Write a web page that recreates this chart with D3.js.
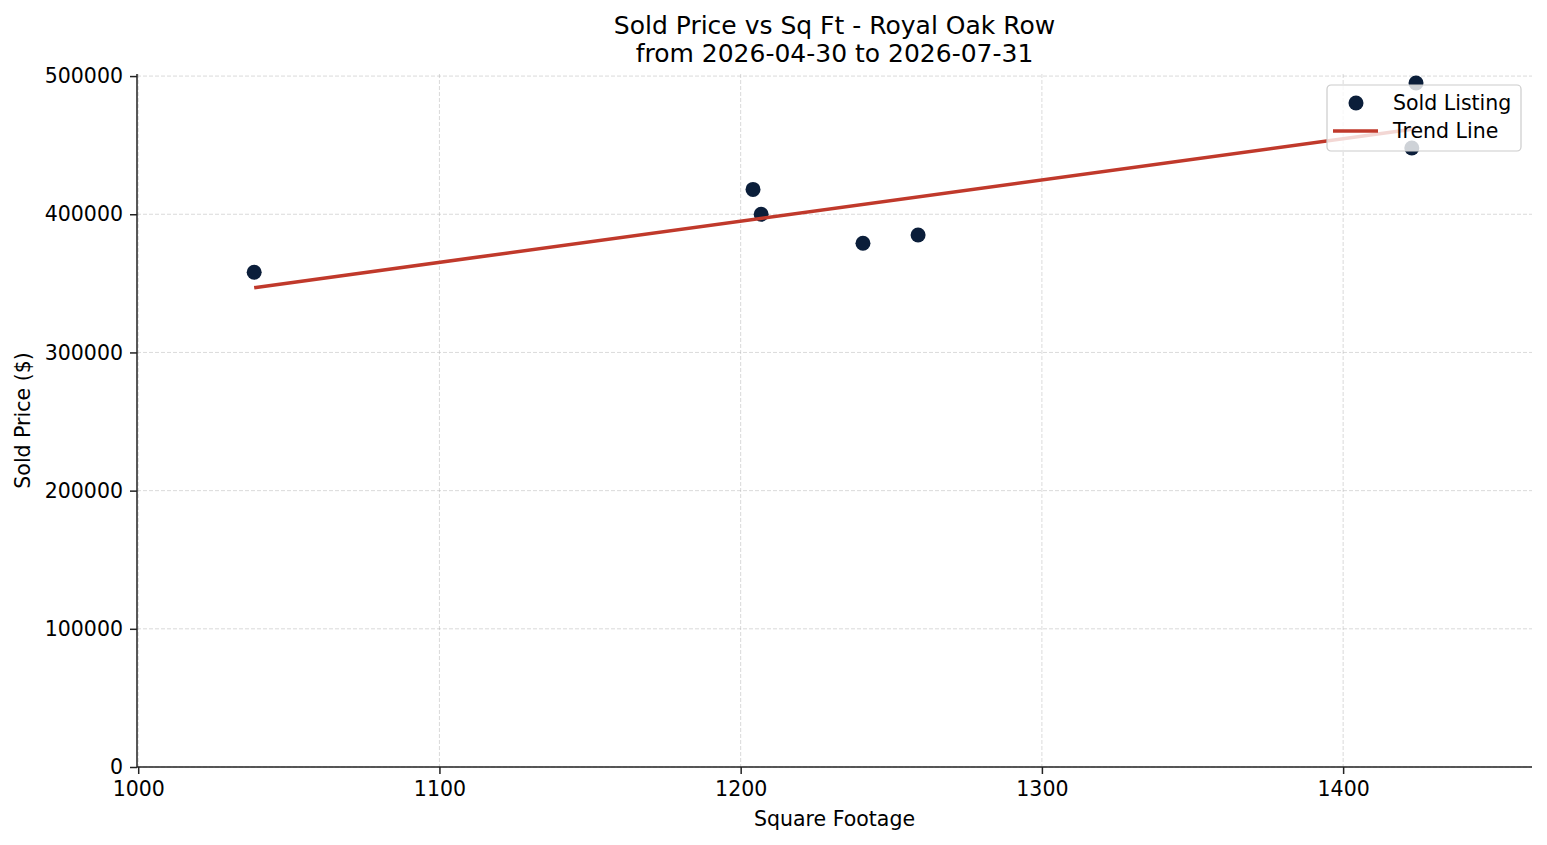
<!DOCTYPE html>
<html>
<head>
<meta charset="utf-8">
<script src="https://cdn.jsdelivr.net/npm/d3@7"></script>
<style>
  body { margin: 0; background: #fff; }
  text { font-family: "DejaVu Sans", sans-serif; fill: #000; }
</style>
</head>
<body>
<div class="chart"></div>
<script>
var sqft  = [1038.5, 1204.1, 1206.8, 1240.6, 1258.9, 1424.2, 1422.8];
var price = [358000, 418000, 400000, 379000, 385000, 495000, 448000];
var xTicks = [1000, 1100, 1200, 1300, 1400];
var yTicks = [0, 100000, 200000, 300000, 400000, 500000];
var titleLines = ["Sold Price vs Sq Ft - Royal Oak Row", "from 2026-04-30 to 2026-07-31"];

function loadChart(){
  var W = 1547, H = 845;
  var left = 137, right = 1532, top = 74, bottom = 767;
  var pointColor = "#0b1e3a", lineColor = "#c0392b";

  var svg = d3.select(".chart").append("svg")
              .attr("width", W)
              .attr("height", H);

  var x = d3.scaleLinear().domain([999.6, 1462.7]).range([left, right]);
  var y = d3.scaleLinear().domain([0, 501500]).range([bottom, top]);

  // grid
  var grid = svg.append("g");
  grid.selectAll("line.gx").data(xTicks).enter().append("line")
      .attr("x1", function(d){ return x(d); }).attr("x2", function(d){ return x(d); })
      .attr("y1", top).attr("y2", bottom)
      .attr("stroke", "#b0b0b0").attr("stroke-opacity", 0.6)
      .attr("stroke-width", 0.8).attr("stroke-dasharray", "4,2");
  grid.selectAll("line.gy").data(yTicks).enter().append("line")
      .attr("x1", left).attr("x2", right)
      .attr("y1", function(d){ return y(d); }).attr("y2", function(d){ return y(d); })
      .attr("stroke", "#b0b0b0").attr("stroke-opacity", 0.6)
      .attr("stroke-width", 0.8).attr("stroke-dasharray", "4,2");

  // axes
  var xAxis = svg.append("g").attr("transform", "translate(0," + bottom + ")")
      .call(d3.axisBottom(x).tickValues(xTicks).tickSize(7).tickPadding(7).tickFormat(d3.format("d")));
  var yAxis = svg.append("g").attr("transform", "translate(" + left + ",0)")
      .call(d3.axisLeft(y).tickValues(yTicks).tickSize(7).tickPadding(7).tickFormat(d3.format("d")));
  [xAxis, yAxis].forEach(function(a){
    a.select(".domain").attr("stroke", "#222").attr("stroke-width", 1.5);
    a.selectAll(".tick line").attr("stroke", "#222").attr("stroke-width", 1.5);
    a.selectAll(".tick text").style("font-size", "20.5px").style("font-family", "DejaVu Sans").attr("fill", "#000");
  });
  // spines run the full length of the axes box
  xAxis.select(".domain").attr("d", "M" + left + ",0H" + right);
  yAxis.select(".domain").attr("d", "M0," + top + "V" + bottom);

  // points
  var pts = sqft.map(function(d, i){ return { sx: d, p: price[i] }; });
  svg.append("g").selectAll("circle").data(pts).enter().append("circle")
      .attr("cx", function(d){ return x(d.sx); })
      .attr("cy", function(d){ return y(d.p); })
      .attr("r", 7.5)
      .style("fill", pointColor);

  // least squares trend
  var mx = d3.mean(sqft), my = d3.mean(price);
  var sxy = d3.sum(sqft, function(d, i){ return (d - mx) * (price[i] - my); });
  var sxx = d3.sum(sqft, function(d){ return (d - mx) * (d - mx); });
  var slope = sxy / sxx, icpt = my - slope * mx;
  var trend = d3.extent(sqft).map(function(v){ return [v, icpt + slope * v]; });
  svg.append("path")
      .attr("d", d3.line().x(function(d){ return x(d[0]); }).y(function(d){ return y(d[1]); })(trend))
      .attr("fill", "none").attr("stroke", lineColor).attr("stroke-width", 3.6);

  // title
  svg.append("g").selectAll("text").data(titleLines).enter().append("text")
      .attr("x", (left + right) / 2)
      .attr("y", function(d, i){ return 34 + i * 28; })
      .attr("text-anchor", "middle")
      .style("font-size", "25px")
      .text(function(d){ return d; });

  // axis labels
  svg.append("text").attr("x", (left + right) / 2).attr("y", 826)
      .attr("text-anchor", "middle").style("font-size", "20.5px").text("Square Footage");
  svg.append("text").attr("transform", "translate(30," + ((top + bottom) / 2) + ") rotate(-90)")
      .attr("text-anchor", "middle").style("font-size", "20.5px").text("Sold Price ($)");

  // legend
  var lg = svg.append("g").attr("transform", "translate(1327,85)");
  lg.append("rect").attr("width", 194).attr("height", 66).attr("rx", 4)
      .attr("fill", "#fff").attr("fill-opacity", 0.8)
      .attr("stroke", "#cccccc").attr("stroke-width", 1.2);
  lg.append("circle").attr("cx", 29).attr("cy", 18).attr("r", 7.5).style("fill", pointColor);
  lg.append("text").attr("x", 66).attr("y", 25).style("font-size", "20.5px").text("Sold Listing");
  lg.append("line").attr("x1", 6).attr("x2", 51).attr("y1", 46).attr("y2", 46)
      .attr("stroke", lineColor).attr("stroke-width", 3.6);
  lg.append("text").attr("x", 66).attr("y", 53).style("font-size", "20.5px").text("Trend Line");
}

loadChart();
</script>
</body>
</html>
